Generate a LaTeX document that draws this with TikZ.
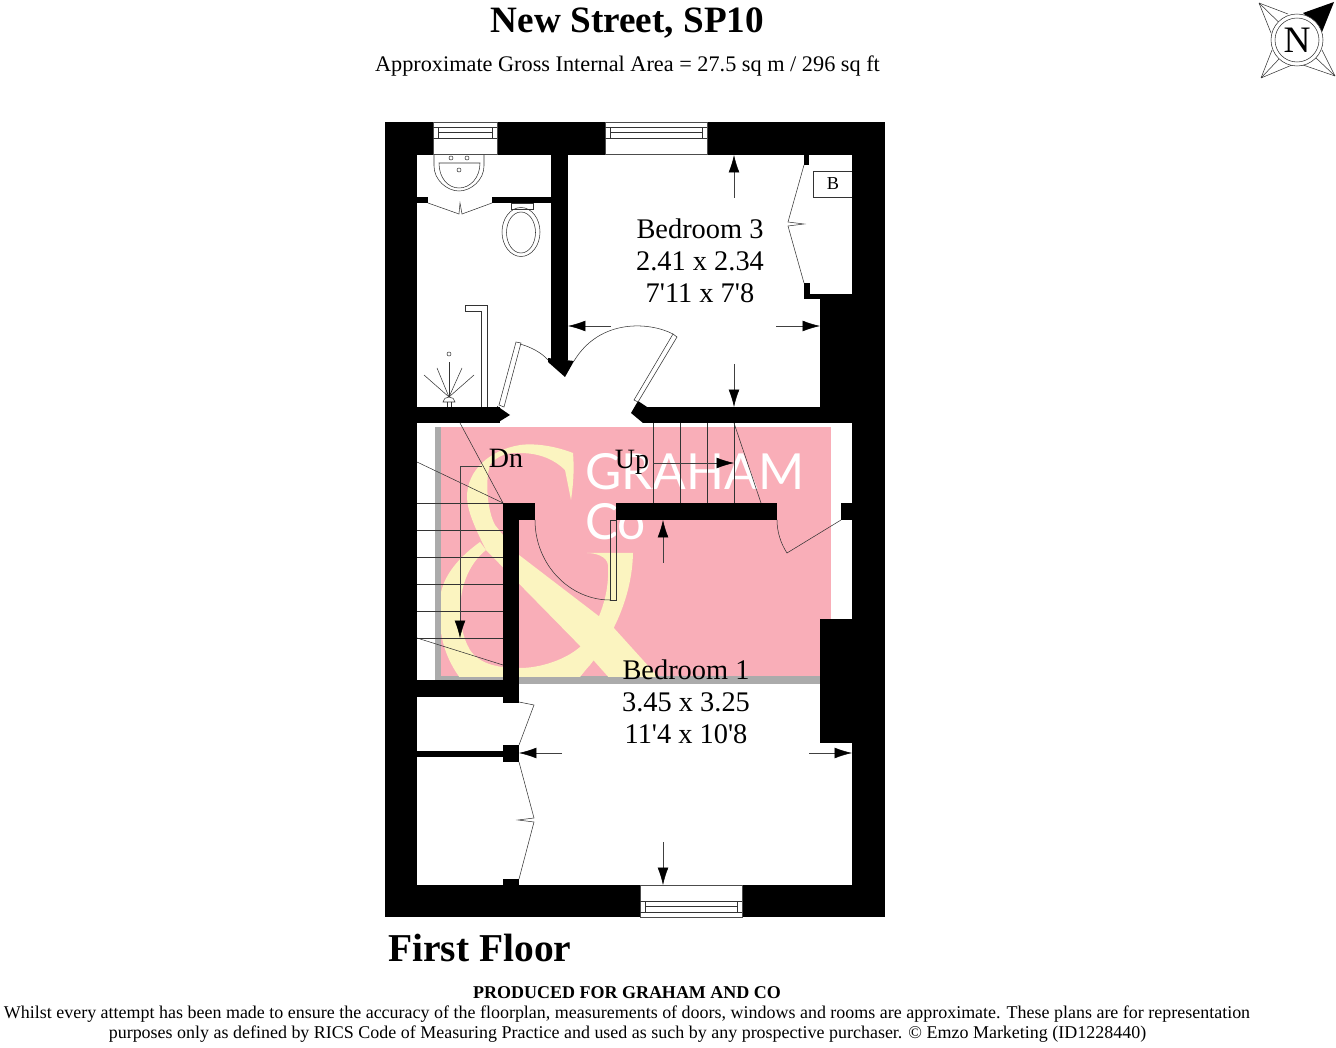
\documentclass[tikz,border=0pt]{standalone}
\usepackage{fontspec}
\setmainfont{Liberation Serif}
\newfontfamily\logofont{Lato}
\usepackage[dvipsnames]{xcolor}
\usetikzlibrary{arrows.meta}
\definecolor{logopink}{HTML}{F9AEB8}
\definecolor{logocream}{HTML}{FBF4C0}
\definecolor{logogray}{HTML}{ABABAB}
\tikzset{
	wall/.style={fill=black, draw=none},
	fine/.style={draw=black!80, line width=0.4pt},
	measure/.style={black!75, line width=0.4pt, -{Latex[length=13pt,width=8pt,black]}},
	room/.style={inner sep=0pt, align=center, font=\fontsize{21.3}{24}\selectfont},
	note/.style={inner sep=0pt, font=\fontsize{13.48}{15}\selectfont},
	windowpane/.style={fill=white, draw=black!70, line width=0.4pt},
}
\begin{document}
\begin{tikzpicture}[x=0.75pt, y=-0.75pt]
	\useasboundingbox (0,0) rectangle (1336,1048);

	\node[inner sep=0pt, font=\fontsize{27.9}{30}\bfseries\selectfont] (title) at (627.5,23) {New Street, SP10};
	\node[inner sep=0pt, font=\fontsize{16.7}{19}\selectfont] (area) at (627.5,66) {Approximate Gross Internal Area = 27.5 sq m / 296 sq ft};

	\fill[logogray] (435,427) rectangle (820,684);
	\fill[logopink] (441,427) rectangle (831,676);
	\begin{scope}
		\clip (441,427) rectangle (831,676);
		\fill[logocream] (571,500) .. controls (574,480) and (574,465) .. (573,453)
			.. controls (555,446) and (535,443) .. (520,445)
			.. controls (490,450) and (467,470) .. (467,497)
			.. controls (467,510) and (475,528) .. (486,550)
			-- (587,653) -- (620,690) -- (670,690) -- (613,627) -- (519,555) -- (495,525)
			.. controls (487,510) and (485,480) .. (490,465)
			.. controls (497,455) and (510,452) .. (520,453)
			.. controls (540,453) and (555,460) .. (565,470) -- cycle;
		\fill[logocream] (480,542) .. controls (455,560) and (441,580) .. (440,600)
			.. controls (438,630) and (442,660) .. (470,690)
			-- (570,690) .. controls (585,670) and (590,665) .. (590,665)
			.. controls (610,640) and (632,600) .. (633,553)
			-- (587,553) .. controls (595,553) and (607,556) .. (608,565)
			.. controls (610,600) and (595,630) .. (580,647)
			.. controls (565,660) and (540,668) .. (520,668)
			.. controls (500,668) and (480,665) .. (470,650)
			.. controls (455,625) and (455,575) .. (486,550) -- cycle;
	\end{scope}
	\node[inner sep=0pt, anchor=base west, text=white, font=\logofont\fontsize{37.3}{40}\selectfont] (graham) at (585,490) {GRAHAM};
	\node[inner sep=0pt, anchor=base west, text=white, font=\logofont\fontsize{37.3}{40}\selectfont] (co) at (585,540) {Co};

	\foreach \xa/\ya/\xb/\yb in {385/122/885/155, 385/885/885/917, 385/122/417/917, 852/122/885/917,
		551/155/568/360, 417/407/500/423, 645/407/852/423, 820/294/852/407, 804/294/820/299, 804/283/810/299,
		804/155/809/165, 417/197/428/203, 492/197/551/203,
		503/503/519/703, 503/503/535/520, 616/503/777/520, 841/503/852/520, 417/680/519/697,
		820/619/852/743, 417/751/503/757, 503/745/519/762, 503/879/519/885}
		\fill[wall] (\xa,\ya) rectangle (\xb,\yb);
	\fill[wall] (548,358) -- (574,361) -- (565,377) -- (548,362) -- cycle;
	\fill[wall] (497,406) -- (510,415) -- (497,423) -- cycle;
	\fill[wall] (631,413) -- (638,401) -- (647,407) -- (647,423) -- (643,423) -- cycle;

	\foreach \xa/\xb in {433/497, 605/707} {
		\draw[windowpane] (\xa,122) rectangle (\xb,154.5);
		\draw[fine] (\xa,127) -- (\xb,127) (\xa,138) -- (\xb,138);
		\draw[fine] (\xa+5,127) rectangle (\xb-5,138) (\xa+5,132.5) -- (\xb-5,132.5);
	}
	\draw[windowpane] (640,885.5) rectangle (742,917);
	\draw[fine] (640,901) -- (742,901) (640,912) -- (742,912);
	\draw[fine] (645,901) rectangle (737,912) (645,906.5) -- (737,906.5);

	\draw[fine] (434,155) -- (434,166) .. controls (434,180) and (447,191) .. (459,191)
		.. controls (471,191) and (484,180) .. (484,166) -- (484,155);
	\draw[fine] (439,163) -- (480,163) .. controls (480,178) and (470,188) .. (459,188)
		.. controls (448,188) and (439,178) .. (439,163) -- cycle;
	\foreach \xa/\ya in {451/158, 467/158, 459/170}
		\draw[fine] (\xa,\ya) circle[radius=2];
	\draw[fine] (428,203) -- (459,214) -- (460,203) -- (462,214) -- (492,203);

	\draw[fine] (511,203) rectangle (533,209);
	\draw[fine] (521,232) ellipse[x radius=19, y radius=24.5];
	\draw[fine] (521,232.5) ellipse[x radius=14.5, y radius=20.5];

	\draw[fine] (487,407) -- (487,305) -- (465,305) -- (465,311) -- (481,311) -- (481,407);
	\draw[fine] (449,354) circle[radius=2];
	\foreach \xa/\ya in {449/362, 437/368, 462/368, 424/375, 474/375}
		\draw[fine] (449,397) -- (\xa,\ya);
	\draw[fine] (443,402) .. controls (443,399) and (446,397) .. (449,397)
		.. controls (452,397) and (455,399) .. (455,402) -- cycle;
	\draw[fine] (447,402) -- (447,407) (451,402) -- (451,407);

	\draw[fine, fill=white] (499,405) -- (504,407) -- (521,343) -- (516,342) -- cycle;
	\draw[fine] (520,344) .. controls (531,347) and (542,353) .. (548,360);
	\draw[fine, fill=white] (634,400) -- (638,402) -- (677,337) -- (673,334) -- cycle;
	\draw[fine] (673,334) .. controls (650,322) and (600,318) .. (574,361);

	\draw[fine] (804,165) -- (788,222) -- (804,224) -- (788,226) -- (804,283);
	\draw[fine] (852,171) -- (813,171) -- (813,197) -- (852,197);
	\node[inner sep=0pt, font=\fontsize{13.7}{15}\selectfont] (boiler) at (833,184) {B};

	\foreach \ya in {503,530,557,584,611,638}
		\draw[fine] (417,\ya) -- (503,\ya);
	\draw[fine] (417,462) -- (503,503) (460,423) -- (503,503) (417,638) -- (503,665);
	\draw[measure] (482,466) -- (460,466) -- (460,638);
	\foreach \xa in {653,680,707,734}
		\draw[fine] (\xa,423) -- (\xa,503);
	\draw[fine] (734,423) -- (761,503);
	\draw[measure] (653,463) -- (734,463);
	\node[inner sep=0pt, font=\fontsize{21}{24}\selectfont] (down) at (506,458) {Dn};
	\node[inner sep=0pt, font=\fontsize{21}{24}\selectfont] (up) at (632,462) {Up};

	\draw[fine] (535,520) .. controls (535,565) and (570,600) .. (610,600);
	\draw[fine] (610,520) rectangle (616,600);
	\draw[fine] (777,520) .. controls (777,532) and (781,544) .. (787,553) -- (841,520);

	\draw[fine] (519,702) -- (534,705) -- (519,745);
	\draw[fine] (519,762) -- (534,818) -- (518,820) -- (534,822) -- (519,879);

	\draw[measure] (734,198) -- (734,155);
	\draw[measure] (734,364) -- (734,407);
	\draw[measure] (611,326) -- (568,326);
	\draw[measure] (776,326) -- (820,326);
	\draw[measure] (663,563) -- (663,520);
	\draw[measure] (663,842) -- (663,885);
	\draw[measure] (562,753) -- (519,753);
	\draw[measure] (809,753) -- (852,753);

	\node[room] (bedthree) at (700,261) {Bedroom 3\\2.41 x 2.34\\7\textquotesingle 11 x 7\textquotesingle 8};
	\node[room] (bedone) at (686,702) {Bedroom 1\\3.45 x 3.25\\11\textquotesingle 4 x 10\textquotesingle 8};

	\foreach \xa/\ya in {1259/3, 1261/78, 1335/76} {
		\draw[fine] (\xa,\ya) -- (1297,40);
	}
	\draw[fine] (1259,3) -- (1288,14) (1259,3) -- (1271,33);
	\draw[fine] (1261,78) -- (1272,50) (1261,78) -- (1292,65);
	\draw[fine] (1335,76) -- (1322,50) (1335,76) -- (1303,65);
	\fill[black] (1334,2) -- (1303,13) -- (1322,32) -- cycle;
	\draw[fine, fill=white] (1297,40) circle[radius=26];
	\draw[fine, fill=white] (1297,40) circle[radius=22];
	\node[inner sep=0pt, font=\fontsize{28}{30}\selectfont] (north) at (1297,40) {N};

	\node[inner sep=0pt, font=\fontsize{29.6}{32}\bfseries\selectfont, anchor=base west] (floor) at (388,961) {First Floor};
	\node[inner sep=0pt, font=\fontsize{13.5}{15}\bfseries\selectfont] (produced) at (627,993) {PRODUCED FOR GRAHAM AND CO};
	\node[note] (disclaimerone) at (627,1014) {Whilst every attempt has been made to ensure the accuracy of the floorplan, measurements of doors, windows and rooms are approximate. These plans are for representation};
	\node[note] (disclaimertwo) at (627.5,1034) {purposes only as defined by RICS Code of Measuring Practice and used as such by any prospective purchaser. © Emzo Marketing (ID1228440)};
\end{tikzpicture}
\end{document}
